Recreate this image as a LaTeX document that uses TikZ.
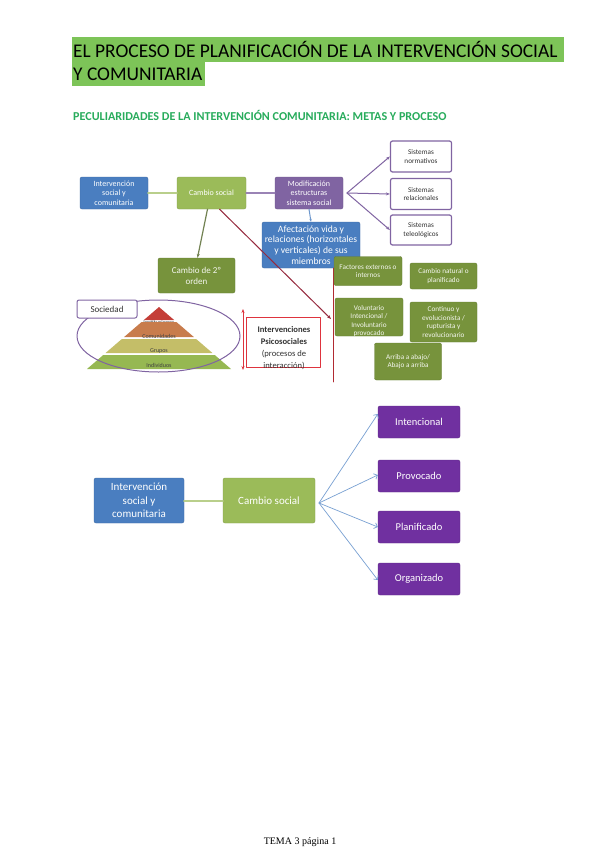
\documentclass[tikz,border=0pt]{standalone}
\usepackage{fontspec}
\setmainfont{Carlito}
\newfontfamily\footfont{Liberation Serif}
\usetikzlibrary{arrows.meta}

\definecolor{hlgreen}{RGB}{125,196,88}
\definecolor{subgreen}{RGB}{40,172,92}
\definecolor{offblue}{RGB}{74,126,192}
\definecolor{offgreen}{RGB}{155,187,89}
\definecolor{offpurple}{RGB}{128,100,162}
\definecolor{darkolive}{RGB}{119,147,60}
\definecolor{deeppurple}{RGB}{112,48,160}
\definecolor{boxred}{RGB}{222,52,62}
\definecolor{wine}{RGB}{150,42,62}
\definecolor{linkblue}{RGB}{120,160,210}
\definecolor{pyrtop}{RGB}{196,62,56}
\definecolor{pyrtwo}{RGB}{200,124,76}
\definecolor{pyrthree}{RGB}{196,190,104}
\definecolor{pyrfour}{RGB}{150,184,82}

\tikzset{
  box/.style={rounded corners=2pt,align=center,inner sep=1pt,text=white},
  blubox/.style={box,fill=offblue,draw=offblue!85!black},
  grnbox/.style={box,fill=offgreen,draw=offgreen!85!black},
  purbox/.style={box,fill=offpurple,draw=offpurple!85!black},
  olvbox/.style={box,fill=darkolive,draw=darkolive!85!black,text=white!92!darkolive},
  vltbox/.style={box,fill=deeppurple,draw=deeppurple!85!black},
  sisbox/.style={rounded corners=2pt,align=center,inner sep=1pt,fill=white,draw=offpurple,line width=1.2pt,text=black!80},
  tiny/.style={font=\fontsize{7.2}{8.4}\selectfont},
  small/.style={font=\fontsize{8}{9.5}\selectfont},
  big/.style={font=\fontsize{11}{13.5}\selectfont}
}

\begin{document}
\begin{tikzpicture}[x=1pt,y=-1pt,line cap=round,line join=round]
  \useasboundingbox[fill=white] (0,0) rectangle (600,848);

  % title
  \fill[hlgreen] (72,37) rectangle (564,62);
  \fill[hlgreen] (72,62) rectangle (205,86);
  \node[anchor=base west,inner sep=0] (title1) at (73,58) {\fontsize{19.4}{24}\selectfont EL PROCESO DE PLANIFICACIÓN DE LA INTERVENCIÓN SOCIAL};
  \node[anchor=base west,inner sep=0] (title2) at (73,81) {\fontsize{19.4}{24}\selectfont Y COMUNITARIA};
  \node[anchor=base west,inner sep=0,text=subgreen] (subtitle) at (73,121) {\fontsize{12.1}{14}\selectfont\bfseries PECULIARIDADES DE LA INTERVENCIÓN COMUNITARIA: METAS Y PROCESO};

  % first scheme
  \node[blubox,small,minimum width=68pt,minimum height=32pt] (isc1) at (114,193) {Intervención\\social y\\comunitaria};
  \node[grnbox,small,minimum width=69pt,minimum height=32pt] (cs1) at (211.5,193) {Cambio social};
  \node[purbox,small,minimum width=68pt,minimum height=32pt] (mod1) at (309,193) {Modificación\\estructuras\\sistema social};
  \node[sisbox,tiny,minimum width=61pt,minimum height=31pt] (snorm) at (421,156.5) {Sistemas\\normativos};
  \node[sisbox,tiny,minimum width=61pt,minimum height=31pt] (srel) at (421,194) {Sistemas\\relacionales};
  \node[sisbox,tiny,minimum width=61pt,minimum height=30pt] (stel) at (421,230) {Sistemas\\teleológicos};
  \node[blubox,font=\fontsize{9.6}{10.6}\selectfont,minimum width=98pt,minimum height=46pt] (afec) at (311,245) {Afectación vida y\\relaciones (horizontales\\y verticales) de sus\\miembros};
  \node[olvbox,font=\fontsize{9}{11}\selectfont,minimum width=77pt,minimum height=35pt] (c2) at (196.5,275.5) {Cambio de 2º\\orden};

  \draw[offgreen!70!white,line width=2pt] (isc1.east) -- (cs1.west);
  \draw[offpurple!80!white,line width=1.5pt] (cs1.east) -- (mod1.west);
  \coordinate (fan1) at (347,193);
  \foreach \s in {snorm,srel,stel}{
    \draw[offpurple,line width=1pt,-{Stealth[length=4pt]}] (fan1) -- (\s.west);
  }
  \draw[offblue!80!white,line width=1pt,-{Stealth[length=3pt]}] (mod1.south) -- (afec.north);
  \draw[black!30!offgreen!70!gray,line width=1.2pt,-{Stealth[length=4pt]}] ([xshift=-4pt]cs1.south) -- ([xshift=1pt]c2.north);

  % factors
  \coordinate (rtop) at (333,268);
  \coordinate (rbot) at (333,382);
  \draw[boxred!80!black,line width=0.9pt] (rtop) -- (rbot);
  \node[olvbox,tiny,minimum width=68pt,minimum height=29pt] (fac) at (368,271) {Factores externos o\\internos};
  \node[olvbox,tiny,minimum width=67pt,minimum height=26pt] (nat) at (443.5,276) {Cambio natural o\\planificado};
  \node[olvbox,minimum width=68pt,minimum height=38pt] (vol) at (369,317) {};
  \begin{scope}
    \clip (vol.south west) rectangle (vol.north east);
    \node[tiny,align=center,text=white!92!darkolive] (voltxt) at (369,321) {Voluntario\\Intencional /\\Involuntario\\provocado};
  \end{scope}
  \node[olvbox,tiny,minimum width=67pt,minimum height=40pt] (cont) at (443.5,322) {Continuo y\\evolucionista /\\rupturista y\\revolucionario};
  \node[olvbox,tiny,minimum width=67pt,minimum height=37pt] (arr) at (408,361.5) {Arriba a abajo/\\Abajo a arriba};
  \coordinate (rhit) at (331,319);
  \draw[wine,line width=1pt,-{Stealth[length=4pt]}] ([xshift=8pt]cs1.south) -- (rhit);

  % society pyramid
  \foreach \ya/\yb/\col/\ly/\lab [count=\i] in {307/320/pyrtop/322/Instituciones,
      322/337/pyrtwo/336/Comunidades,
      339/353/pyrthree/351/Grupos,
      355/369/pyrfour/365/Individuos}{
    \pgfmathsetmacro\wa{1.1613*(\ya-307)}
    \pgfmathsetmacro\wb{1.1613*(\yb-307)}
    \fill[\col] (159-\wa,\ya) -- (159+\wa,\ya) -- (159+\wb,\yb) -- (159-\wb,\yb) -- cycle;
    \node[font=\fontsize{6}{7}\selectfont,text=black!75,inner sep=0] (pyr\i) at (159,\ly) {\lab};
  }
  \draw[offpurple,line width=1pt] (158.5,336) ellipse [x radius=81.5pt,y radius=36pt];
  \node[sisbox,line width=1pt,font=\fontsize{9}{11}\selectfont,minimum width=60pt,minimum height=18pt] (soc) at (107,309) {Sociedad};
  \node[draw=boxred,line width=1pt,fill=white,minimum width=74pt,minimum height=50pt] (psico) at (283,342) {};
  \node[align=center,inner sep=0,font=\fontsize{8.6}{12}\selectfont,text=black!80] (psicotxt) at (284,348) {\textbf{Intervenciones}\\\textbf{Psicosociales}\\(procesos de\\interacción)};
  \coordinate (ra) at (243,309);
  \coordinate (rb) at (243,370);
  \draw[boxred,line width=1pt,{Stealth[length=4pt]}-{Stealth[length=4pt]}] (ra) -- (rb);

  % second scheme
  \node[blubox,big,minimum width=90pt,minimum height=45pt] (isc2) at (139,500.5) {Intervención\\social y\\comunitaria};
  \node[grnbox,big,minimum width=92pt,minimum height=45pt] (cs2) at (269,500.5) {Cambio social};
  \draw[offgreen!70!white,line width=2pt] (isc2.east) -- (cs2.west);
  \node[vltbox,font=\fontsize{10.5}{12}\selectfont,minimum width=82pt,minimum height=32pt] (intc) at (419,422) {Intencional};
  \node[vltbox,font=\fontsize{10.5}{12}\selectfont,minimum width=82pt,minimum height=32pt] (prov) at (419,476) {Provocado};
  \node[vltbox,font=\fontsize{10.5}{12}\selectfont,minimum width=82pt,minimum height=32pt] (plan) at (419,527) {Planificado};
  \node[vltbox,font=\fontsize{10.5}{12}\selectfont,minimum width=82pt,minimum height=32pt] (orga) at (419,579) {Organizado};
  \coordinate (fan2) at (319,503);
  \draw[linkblue,line width=0.7pt,-{Straight Barb[length=3pt]}] (fan2) -- ([yshift=8pt]intc.west);
  \draw[linkblue,line width=0.7pt,-{Straight Barb[length=3pt]}] (fan2) -- ([yshift=1pt]prov.west);
  \draw[linkblue,line width=0.7pt,-{Straight Barb[length=3pt]}] (fan2) -- (plan.west);
  \draw[linkblue,line width=0.7pt,-{Straight Barb[length=3pt]}] (fan2) -- ([yshift=-1pt]orga.west);

  % footer
  \node[anchor=base,inner sep=0] (foot) at (300,844) {\footfont\fontsize{10}{12}\selectfont TEMA 3 página 1};
\end{tikzpicture}
\end{document}
